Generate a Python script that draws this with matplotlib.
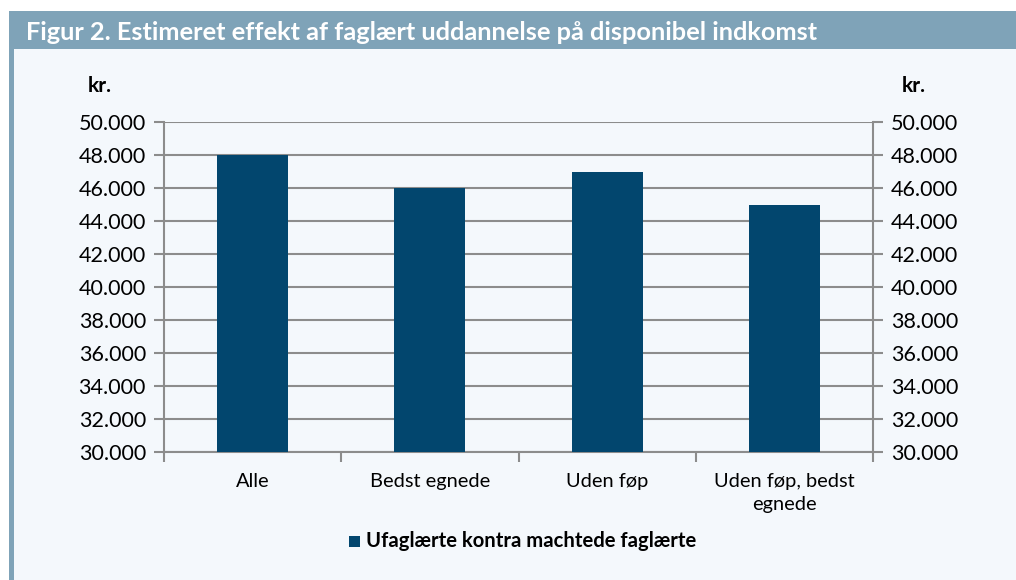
import matplotlib
matplotlib.use('Agg')
import matplotlib.pyplot as plt
from matplotlib.patches import Rectangle

# Data
categories = ['Alle', 'Bedst egnede', 'Uden føp', 'Uden føp, bedst\negnede']
values = [48000, 46000, 47000, 45000]
series_name = 'Ufaglærte kontra machtede faglærte'
title = 'Figur 2. Estimeret effekt af faglært uddannelse på disponibel indkomst'
yticks = list(range(30000, 50001, 2000))

W, H = 1016, 580
bar_color = '#02466e'
band_color = '#7fa3b8'
bg_color = '#f4f8fc'
grid_color = '#8c8c8c'

plt.rcParams['font.family'] = ['Lato', 'DejaVu Sans']

fig = plt.figure(figsize=(W / 100, H / 100), dpi=100, facecolor='white')

# Background panels (pixel -> figure fraction)
def px_rect(x0, y0, x1, y1, color):
    fig.patches.append(Rectangle((x0 / W, 1 - y1 / H), (x1 - x0) / W, (y1 - y0) / H,
                                 transform=fig.transFigure, facecolor=color,
                                 edgecolor='none', zorder=-10))

px_rect(14, 49, W, H, bg_color)
px_rect(9, 11, W, 49, band_color)
px_rect(9, 49, 14, H, band_color)

fig.text(26 / W, 1 - 32 / H, title, color='white', fontsize=18.3, fontweight='bold',
         ha='left', va='center')

# Plot area
left, right, top, bottom = 164, 873, 122, 452
ax = fig.add_axes([left / W, 1 - bottom / H, (right - left) / W, (bottom - top) / H])
ax.set_facecolor(bg_color)

x = list(range(len(categories)))
ax.bar(x, values, width=0.4, color=bar_color, zorder=3)

ax.set_xlim(-0.5, len(categories) - 0.5)
ax.set_ylim(30000, 50000)
ax.set_yticks(yticks)
ax.set_yticklabels([f'{v:,}'.replace(',', '.') for v in yticks])
ax.yaxis.grid(True, color=grid_color, linewidth=1.5, zorder=0)
ax.set_axisbelow(True)

# category labels centred, tick marks at the boundaries
ax.set_xticks(x)
ax.set_xticklabels(categories, fontsize=14.4, linespacing=1.45)
ax.tick_params(axis='x', length=0, pad=15)
ax.set_xticks([i - 0.5 for i in range(len(categories) + 1)], minor=True)
ax.tick_params(axis='x', which='minor', length=7, width=1.5, color=grid_color)
ax.tick_params(axis='y', length=7, width=1.5, color=grid_color, labelsize=15.5, pad=6)

for side in ['left', 'right', 'bottom']:
    ax.spines[side].set_color(grid_color)
    ax.spines[side].set_linewidth(1.5)
ax.spines['top'].set_visible(False)

ax2 = ax.twinx()
ax2.set_ylim(ax.get_ylim())
ax2.set_yticks(yticks)
ax2.set_yticklabels([f'{v:,}'.replace(',', '.') for v in yticks])
ax2.tick_params(axis='y', length=7, width=1.5, color=grid_color, labelsize=15.5, pad=6)
for s in ax2.spines.values():
    s.set_visible(False)

fig.text(100 / W, 1 - 86 / H, 'kr.', fontsize=15, fontweight='bold', ha='center', va='center')
fig.text(914 / W, 1 - 86 / H, 'kr.', fontsize=15, fontweight='bold', ha='center', va='center')

# Legend
fig.patches.append(Rectangle((349 / W, 1 - 547 / H), 11 / W, 11 / H, transform=fig.transFigure,
                             facecolor=bar_color, edgecolor='none'))
fig.text(366 / W, 1 - 541 / H, series_name, fontsize=14.6, fontweight='bold',
         ha='left', va='center')

fig.savefig('out.png', dpi=100, facecolor='white')
